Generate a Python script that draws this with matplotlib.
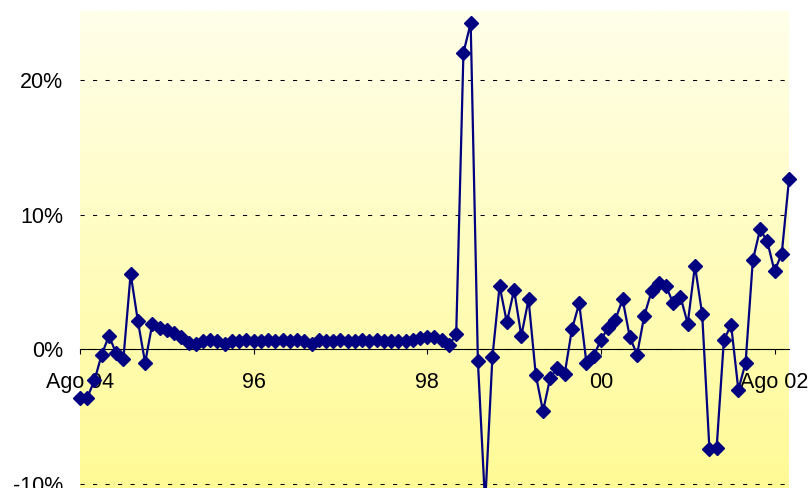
import numpy as np
import matplotlib
matplotlib.use('Agg')
import matplotlib.pyplot as plt
from matplotlib.ticker import FuncFormatter

plt.rcParams['font.family'] = ['Liberation Sans', 'DejaVu Sans']

# variacion mensual, ago 94 - oct 02 (en %)
valores = [
    -3.6, -3.6, -2.3, -0.4, 1.0, -0.3, -0.7, 5.6, 2.1, -1.0,
    1.9, 1.6, 1.4, 1.2, 0.9, 0.5, 0.4, 0.6, 0.7, 0.6,
    0.4, 0.6, 0.6, 0.7, 0.6, 0.6, 0.7, 0.6, 0.7, 0.6,
    0.7, 0.6, 0.4, 0.7, 0.6, 0.6, 0.7, 0.6, 0.6, 0.7,
    0.6, 0.7, 0.6, 0.6, 0.6, 0.6, 0.7, 0.8, 0.9, 0.9,
    0.7, 0.3, 1.1, 22.0, 24.2, -0.9, -11.5, -0.6, 4.7, 2.0,
    4.4, 1.0, 3.7, -1.9, -4.6, -2.1, -1.4, -1.8, 1.5, 3.4,
    -1.0, -0.5, 0.7, 1.6, 2.2, 3.7, 0.9, -0.4, 2.5, 4.3,
    4.9, 4.7, 3.4, 3.9, 1.9, 6.2, 2.6, -7.4, -7.3, 0.7,
    1.8, -3.0, -1.0, 6.6, 8.9, 8.0, 5.8, 7.1, 12.6,
]
meses = np.arange(len(valores))

etiquetas_pos = [0, 24, 48, 72, 96]
etiquetas = ['Ago 94', '96', '98', '00', 'Ago 02']
y_ticks = [-10, 0, 10, 20]

fig = plt.figure(figsize=(8.11, 4.88), dpi=100)
ax = fig.add_axes([80 / 811, -23 / 488, 709 / 811, 500 / 488])

# fondo degradado amarillo
arriba = np.array([255, 255, 234]) / 255
abajo = np.array([255, 250, 145]) / 255
t = np.linspace(0, 1, 256).reshape(-1, 1, 1)
grad = arriba * (1 - t) + abajo * t
ax.imshow(grad, extent=[0, 1, 0, 1], transform=ax.transAxes,
          aspect='auto', zorder=0, interpolation='bilinear')
ax.patch.set_visible(False)

ax.plot(meses, valores, color='#000080', lw=1.6, marker='D', ms=7,
        mfc='#000080', mec='#000080', mew=1, zorder=3, clip_on=False)

ax.set_xlim(0, len(valores) - 1)
ax.set_ylim(-12, 25.1)

ax.set_yticks(y_ticks)
ax.yaxis.set_major_formatter(FuncFormatter(lambda v, p: '%d%%' % v))
ax.set_xticks(etiquetas_pos)
ax.set_xticklabels(etiquetas)

for s in ['left', 'right', 'top']:
    ax.spines[s].set_visible(False)
ax.spines['bottom'].set_position(('data', 0))
ax.spines['bottom'].set_linewidth(0.8)
ax.spines['bottom'].set_zorder(1.6)

ax.tick_params(axis='y', length=0, pad=12, labelsize=15.5)
ax.tick_params(axis='x', length=3.6, width=0.8, direction='out',
               pad=12.5, labelsize=15.5)

plt.rcParams['lines.scale_dashes'] = False
ax.yaxis.grid(True, color='black', lw=0.75, linestyle=(0, (3, 6)))
ax.set_axisbelow('line')

fig.savefig('out.png', dpi=100)
